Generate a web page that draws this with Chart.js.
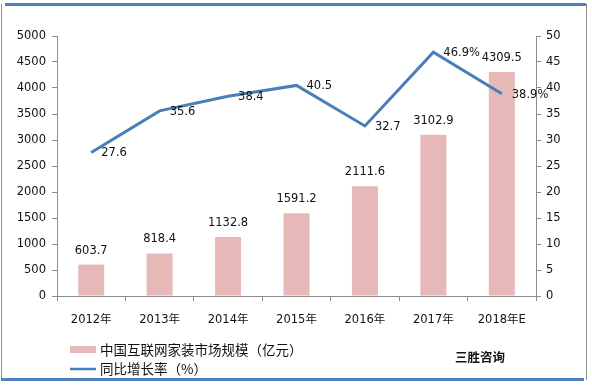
<!DOCTYPE html>
<html><head><meta charset="utf-8">
<script src="https://cdn.jsdelivr.net/npm/chart.js@4/dist/chart.umd.min.js"></script>
<style>html,body{margin:0;padding:0;background:#fff;}#wrap{width:592px;height:385px;position:relative;}</style>
</head><body><div id="wrap"><canvas id="c" width="592" height="385"></canvas></div>
<script>
const categories = ["2012年","2013年","2014年","2015年","2016年","2017年","2018年E"];
const marketSize = [603.7, 818.4, 1132.8, 1591.2, 2111.6, 3102.9, 4309.5];
const growthRate = [27.6, 35.6, 38.4, 40.5, 32.7, 46.9, 38.9];
const growthLabels = ["27.6","35.6","38.4","40.5","32.7","46.9%","38.9%"];
const sizeLabels = ["603.7","818.4","1132.8","1591.2","2111.6","3102.9","4309.5"];
const seriesNames = ["中国互联网家装市场规模（亿元）","同比增长率（%）"];
const leftTicks = [0,500,1000,1500,2000,2500,3000,3500,4000,4500,5000];
const rightTicks = [0,5,10,15,20,25,30,35,40,45,50];

const BAR = "#e6b9b8", LINE = "#4a7ebb", TXT = "#111";
const NUMFONT = "'DejaVu Sans', 'Noto Sans CJK SC', sans-serif";
const CJK = "'Noto Sans CJK SC', sans-serif";

const decor = {
  id: 'decor',
  beforeDraw(chart) {
    const ctx = chart.ctx;
    ctx.save();
    ctx.fillStyle = '#fff';
    ctx.fillRect(0,0,chart.width,chart.height);
    ctx.restore();
  },
  afterDraw(chart) {
    const ctx = chart.ctx;
    ctx.save();
    // frame
    ctx.strokeStyle = '#8c8c8c'; ctx.lineWidth = 1;
    ctx.beginPath(); ctx.moveTo(1.5,4); ctx.lineTo(1.5,381); ctx.stroke();
    ctx.beginPath(); ctx.moveTo(586.5,4); ctx.lineTo(586.5,380); ctx.stroke();
    ctx.fillStyle = '#4f81bd';
    ctx.fillRect(5,3,581,3);
    ctx.fillRect(1,378,583,3);
    // data labels
    ctx.fillStyle = TXT;
    ctx.font = "11.5px " + NUMFONT;
    const barMeta = chart.getDatasetMeta(0);
    ctx.textAlign = 'center'; ctx.textBaseline = 'middle';
    barMeta.data.forEach((el,i) => { ctx.fillText(sizeLabels[i], el.x, el.y - 14); });
    const lineMeta = chart.getDatasetMeta(1);
    ctx.textAlign = 'left';
    lineMeta.data.forEach((el,i) => { ctx.fillText(growthLabels[i], el.x + 10, el.y + 1); });
    // legend
    ctx.fillStyle = BAR; ctx.fillRect(70,346,26,7);
    ctx.strokeStyle = LINE; ctx.lineWidth = 2.5;
    ctx.beginPath(); ctx.moveTo(70,369); ctx.lineTo(96,369); ctx.stroke();
    ctx.fillStyle = TXT; ctx.font = "13.5px " + CJK; ctx.textAlign='left';
    ctx.fillText(seriesNames[0], 100, 350);
    ctx.fillText(seriesNames[1], 100, 369);
    ctx.font = "bold 12.5px " + CJK;
    ctx.fillText("三胜咨询", 455, 357);
    ctx.restore();
  }
};

new Chart(document.getElementById('c'), {
  data: {
    labels: categories,
    datasets: [
      { type:'bar', label: seriesNames[0], data: marketSize, backgroundColor: BAR, yAxisID:'y', barPercentage:0.38, categoryPercentage:1.0, order:2 },
      { type:'line', label: seriesNames[1], data: growthRate, borderColor: LINE, borderWidth:3, pointRadius:0, tension:0, yAxisID:'y1', order:1 }
    ]
  },
  options: {
    responsive:false, animation:false,
    layout:{ padding:{ top:36, left:0, right:0, bottom:0 } },
    plugins:{ legend:{display:false}, tooltip:{enabled:false} },
    scales:{
      x:{
        offset:true,
        grid:{ display:true, drawOnChartArea:false, offset:true, tickLength:5, color:'#8c8c8c' },
        border:{ color:'#8c8c8c' },
        ticks:{ color:TXT, font:{ family:NUMFONT, size:11.5 }, padding:12, maxRotation:0 },
        afterFit(s){ s.height = 89; }
      },
      y:{
        position:'left', min:0, max:5000,
        afterBuildTicks(s){ s.ticks = leftTicks.map(v=>({value:v})); },
        grid:{ drawOnChartArea:false, tickLength:5, color:'#8c8c8c' },
        border:{ color:'#8c8c8c' },
        ticks:{ color:TXT, font:{ family:NUMFONT, size:11.5 }, padding:6, callback:(v)=>String(v) },
        afterFit(s){ s.width = 57; }
      },
      y1:{
        position:'right', min:0, max:50,
        afterBuildTicks(s){ s.ticks = rightTicks.map(v=>({value:v})); },
        grid:{ drawOnChartArea:false, tickLength:5, color:'#8c8c8c' },
        border:{ color:'#8c8c8c' },
        ticks:{ color:TXT, font:{ family:NUMFONT, size:11.5 }, padding:5, callback:(v)=>String(v) },
        afterFit(s){ s.width = 56; }
      }
    }
  },
  plugins:[decor]
});
</script>
</body></html>
